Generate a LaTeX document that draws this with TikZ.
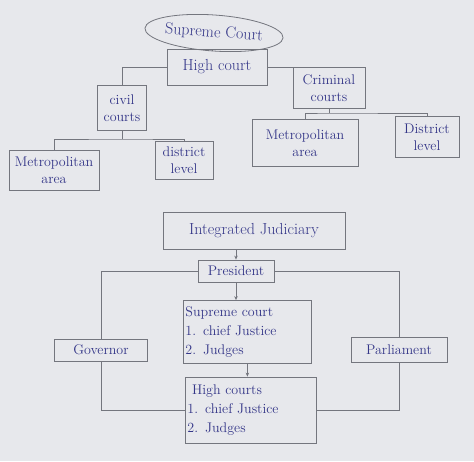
\documentclass[tikz,border=0pt]{standalone}
\usepackage{xcolor}
\usepackage{tikz}
\usetikzlibrary{arrows.meta, shapes.geometric, positioning, calc}
\definecolor{paper}{HTML}{E7E8EC}
\definecolor{pencil}{HTML}{74767E}
\definecolor{ink}{HTML}{343688}
\tikzset{
  box/.style={draw=pencil, line width=0.8pt, text=ink, align=center, inner sep=2pt,
    font=\fontsize{14}{17}\selectfont},
  lbox/.style={box, align=left, anchor=west, font=\fontsize{14}{19}\selectfont},
  big/.style={font=\fontsize{16}{19}\selectfont},
  wire/.style={draw=pencil, line width=0.8pt},
  arr/.style={wire, -{Stealth[length=4pt,width=3.5pt]}}
}

\begin{document}
\begin{tikzpicture}[x=1pt,y=-1pt]
          \fill[paper] (0,0) rectangle (474,461);
          \useasboundingbox (0,0) rectangle (474,461);

          \node[box, big, ellipse, rotate=-4, inner sep=0pt, minimum width=132, minimum height=36] (sc0) at (214,33) {Supreme Court};
          \node[box, big, minimum width=100, minimum height=36] (hc) at (217,67) {High court};
          \node[box, minimum width=49, minimum height=45] (cc) at (122,108) {civil\\courts};
          \node[box, minimum width=72, minimum height=41] (crc) at (329,88) {Criminal\\courts};
          \node[box, minimum width=90, minimum height=40] (cma) at (54,170) {Metropolitan\\area};
          \node[box, minimum width=58, minimum height=38] (cdl) at (184,160) {district\\level};
          \node[box, minimum width=106, minimum height=47] (cra) at (305,143) {Metropolitan\\area};
          \node[box, minimum width=64, minimum height=41] (crd) at (427,137) {District\\level};

          \coordinate (cbus) at (122,139);
          \coordinate (rbus) at (329,113);

          \draw[wire] (sc0.south) -- (sc0.south |- hc.north);
          \draw[wire] (hc.west) -| (cc.north);
          \draw[wire] (hc.east) -| (crc.north);
          \draw[wire] (cc.south) -- (cbus);
          \draw[wire] (cma.north) |- (cbus) -| (cdl.north);
          \draw[wire] (crc.south) -- (rbus);
          \draw[wire] (cra.north) |- (rbus) -| (crd.north);

          \node[box, big, minimum width=182, minimum height=37] (ij) at (254,231) {Integrated Judiciary};
          \node[box, minimum width=76, minimum height=22] (pr) at (236,271) {President};
          \node[lbox, text width=124, minimum height=63] (sc) at (183,332) {Supreme court\\1. chief Justice\\2. Judges};
          \node[box, minimum width=93, minimum height=22] (gov) at (101,350) {Governor};
          \node[box, minimum width=96, minimum height=25] (par) at (399,350) {Parliament};
          \node[lbox, text width=127, minimum height=66] (hcs) at (185,410) {\ High courts\\1. chief Justice\\2. Judges};

          \draw[arr] (ij.south -| pr.north) -- (pr.north);
          \draw[arr] (pr.south) -- (pr.south |- sc.north);
          \draw[arr] (sc.south) -- (sc.south |- hcs.north);
          \draw[wire] (pr.west) -| (gov.north);
          \draw[wire] (pr.east) -| (par.north);
          \draw[wire] (gov.south) |- (hcs.west);
          \draw[wire] (par.south) |- (hcs.east);
        \end{tikzpicture}
\end{document}
